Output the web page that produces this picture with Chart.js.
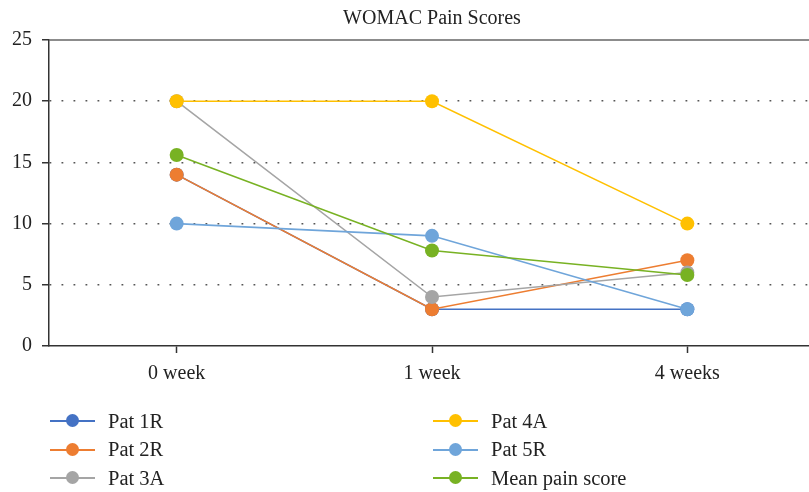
<!DOCTYPE html>
<html>
<head>
<meta charset="utf-8">
<script src="https://cdn.jsdelivr.net/npm/chart.js@4/dist/chart.umd.min.js"></script>
<style>
  html, body { margin: 0; padding: 0; background: #fff; overflow: hidden; }
  #wrap { position: relative; width: 809px; height: 492px; overflow: hidden; }
  #c { position: absolute; left: 0; top: 0; }
  #title {
    position: absolute; top: 6px; left: 432px; transform: translateX(-50%);
    white-space: nowrap; font: 20px "Liberation Serif", "DejaVu Serif", serif; color: #222;
  }
  #legend {
    position: absolute; left: 50px; top: 407px;
    display: grid; grid-auto-flow: column;
    grid-template-columns: 383px auto; grid-template-rows: repeat(3, 28.5px);
    font: 20.5px "Liberation Serif", "DejaVu Serif", serif; color: #222;
  }
  .li { display: flex; align-items: center; }
  .sw { position: relative; width: 45px; height: 14px; margin-right: 13px; }
  .sw .ln { position: absolute; left: 0; right: 0; top: 6px; height: 2px; }
  .sw .dot { position: absolute; left: 16px; top: 0; width: 13px; height: 13px; border-radius: 50%; }
</style>
</head>
<body>
<div id="wrap">
  <canvas id="c" width="822" height="492" style="width:822px;height:492px"></canvas>
  <div id="title">WOMAC Pain Scores</div>
  <div id="legend"></div>
</div>
<script>
// values
var weeks = ["0 week", "1 week", "4 weeks"];
var yTicks = [0, 5, 10, 15, 20, 25];

var pat1R = [14, 3, 3];
var pat2R = [14, 3, 7];
var pat3A = [20, 4, 6];
var pat4A = [20, 20, 10];
var pat5R = [10, 9, 3];
var meanPain = [15.6, 7.8, 5.8];

var seriesNames = ["Pat 1R", "Pat 2R", "Pat 3A", "Pat 4A", "Pat 5R", "Mean pain score"];
var seriesData = [pat1R, pat2R, pat3A, pat4A, pat5R, meanPain];
var seriesColors = ["#4472C4", "#ED7D31", "#A5A5A5", "#FFC000", "#6FA5DA", "#78B223"];

var FONT = "'Liberation Serif', 'DejaVu Serif', serif";

var datasets = seriesNames.map(function (name, i) {
  return {
    label: name,
    data: seriesData[i],
    borderColor: seriesColors[i],
    backgroundColor: seriesColors[i],
    pointBackgroundColor: seriesColors[i],
    pointBorderColor: seriesColors[i],
    borderWidth: 1.6,
    pointRadius: 7,
    pointBorderWidth: 0,
    tension: 0,
    order: seriesNames.length - i // later series painted on top
  };
});

// solid frame line along the top of the plot (value 25)
var topLine = {
  id: "topLine",
  beforeDatasetsDraw: function (chart) {
    var ctx = chart.ctx, a = chart.chartArea;
    var y = chart.scales.y.getPixelForValue(yTicks[yTicks.length - 1]);
    ctx.save();
    ctx.strokeStyle = "#666";
    ctx.lineWidth = 1.5;
    ctx.beginPath();
    ctx.moveTo(a.left, y);
    ctx.lineTo(a.right, y);
    ctx.stroke();
    ctx.restore();
  }
};

new Chart(document.getElementById("c"), {
  type: "line",
  data: { labels: weeks, datasets: datasets },
  plugins: [topLine],
  options: {
    responsive: false,
    animation: false,
    layout: { padding: { top: 40, right: 0, bottom: 106, left: 0 } },
    plugins: { legend: { display: false }, title: { display: false }, tooltip: { enabled: false } },
    scales: {
      x: {
        type: "category",
        offset: true,
        afterFit: function (s) { s.height = 40; },
        grid: { offset: false, drawOnChartArea: false, drawTicks: true, tickLength: 7,
                tickColor: "#333", tickWidth: 1.5 },
        border: { color: "#333", width: 1.5 },
        ticks: { color: "#222", padding: 9, font: { family: FONT, size: 20 } }
      },
      y: {
        min: yTicks[0],
        max: yTicks[yTicks.length - 1],
        afterFit: function (s) { s.width = 49; },
        afterBuildTicks: function (s) { s.ticks = yTicks.map(function (v) { return { value: v }; }); },
        grid: {
          color: function (c) {
            var v = c.tick && c.tick.value;
            return (v === yTicks[0] || v === yTicks[yTicks.length - 1]) ? "rgba(0,0,0,0)" : "#555";
          },
          lineWidth: 1.5,
          tickLength: 7, tickColor: "#333", tickWidth: 1.5, tickBorderDash: []
        },
        border: { color: "#333", width: 1.5, dash: [1.8, 10.2] },
        ticks: { color: "#222", padding: 10, font: { family: FONT, size: 20 } }
      }
    }
  }
});

// two-column legend, filled column by column like the reference
var legend = document.getElementById("legend");
seriesNames.forEach(function (name, i) {
  var item = document.createElement("div");
  item.className = "li";
  var sw = document.createElement("span");
  sw.className = "sw";
  var ln = document.createElement("span");
  ln.className = "ln";
  ln.style.background = seriesColors[i];
  var dot = document.createElement("span");
  dot.className = "dot";
  dot.style.background = seriesColors[i];
  sw.appendChild(ln);
  sw.appendChild(dot);
  item.appendChild(sw);
  item.appendChild(document.createTextNode(name));
  legend.appendChild(item);
});
</script>
</body>
</html>
